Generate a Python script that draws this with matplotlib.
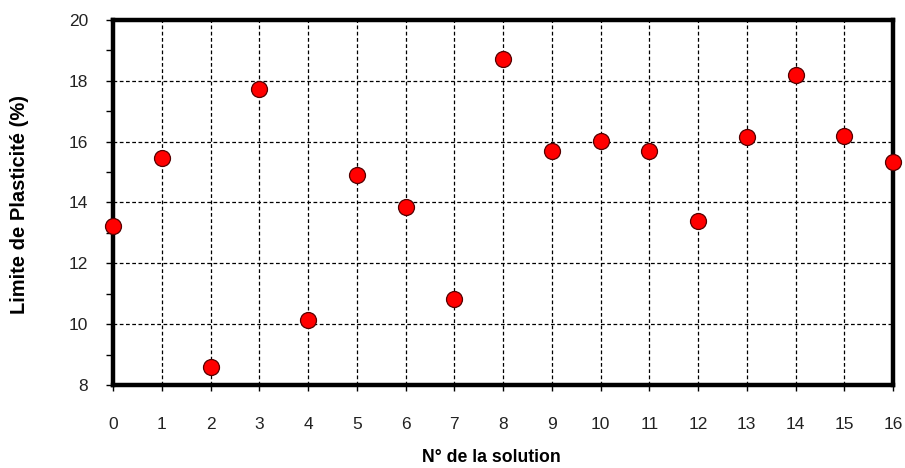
import matplotlib
matplotlib.use("Agg")
import matplotlib.pyplot as plt
from matplotlib.ticker import MultipleLocator

plt.rcParams['font.family'] = ['Liberation Sans', 'DejaVu Sans']

solutions = list(range(17))
plasticity = [13.23, 15.46, 8.59, 17.73, 10.14, 14.90, 13.85, 10.83, 18.72,
              15.69, 16.02, 15.69, 13.39, 16.15, 18.19, 16.19, 15.33]
x_ticks = list(range(17))
y_ticks = [8, 10, 12, 14, 16, 18, 20]

fig = plt.figure(figsize=(9.05, 4.68), dpi=100)
ax = fig.add_axes([113/905, 1-385/468, (893-113)/905, (385-20)/468])

ax.set_xlim(0, 16)
ax.set_ylim(8, 20)
ax.set_xticks(x_ticks)
ax.set_yticks(y_ticks)
ax.yaxis.set_minor_locator(MultipleLocator(1))

ax.grid(True, which='major', color='black', linestyle=(0, (3, 2)), linewidth=0.9)
ax.set_axisbelow(True)

for s in ax.spines.values():
    s.set_linewidth(3.2)
    s.set_color('black')

ax.tick_params(axis='x', which='major', direction='out', length=4, width=1,
               pad=19, labelsize=12.5, labelcolor='#222222')
ax.tick_params(axis='y', which='major', direction='out', length=5, width=1,
               pad=13, labelsize=12.5, labelcolor='#222222')
ax.tick_params(axis='y', which='minor', direction='out', length=5, width=1)

ax.plot(solutions, plasticity, linestyle='none', marker='o', markersize=11.5,
        markerfacecolor='#FF0000', markeredgecolor='#550000', markeredgewidth=0.9,
        clip_on=False, zorder=5)

fig.text(20/905, 1-204/468, 'Limite de Plasticité (%)', rotation=90,
         ha='center', va='center', fontsize=14.5, fontweight='bold')
fig.text(491/905, 1-458/468, 'N° de la solution', ha='center', va='center',
         fontsize=12.7, fontweight='bold')

fig.savefig('out.png', dpi=100, facecolor='white')
